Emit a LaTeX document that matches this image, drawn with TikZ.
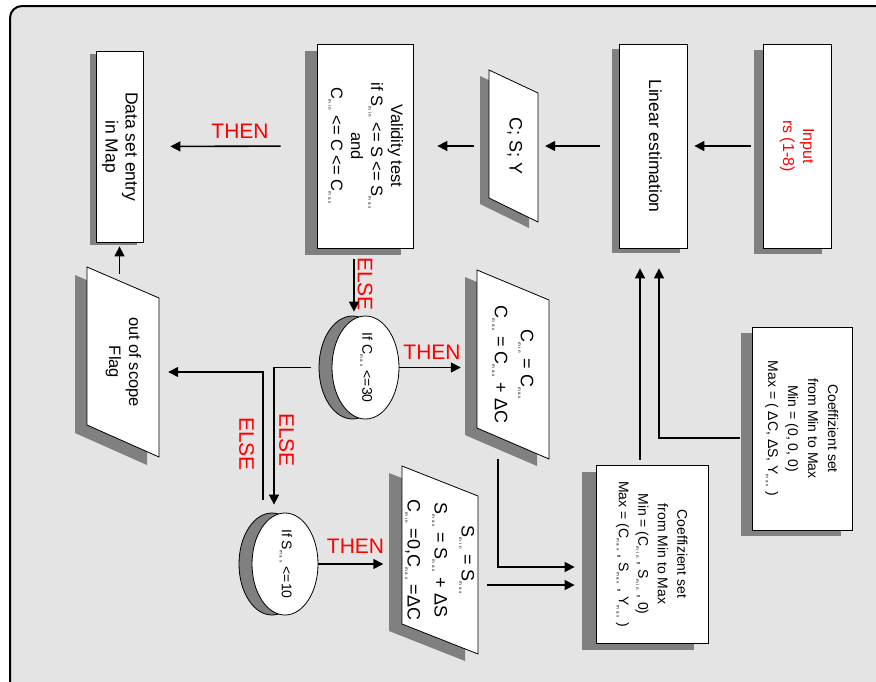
\documentclass[tikz,border=0pt]{standalone}
\usepackage{fontspec}
\setmainfont{Liberation Sans}
\usepackage{graphicx}
\usetikzlibrary{arrows.meta,shapes.geometric}

\definecolor{bggray}{HTML}{E4E4E4}
\definecolor{shadegray}{HTML}{808080}
\definecolor{flowred}{HTML}{FF0000}

\newcommand\sbx[1]{\textsubscript{\fontsize{4.5}{5}\selectfont\addfontfeature{LetterSpace=40}#1}}
\newcommand\vtxt[1]{\rotatebox{-90}{\begin{tabular}{@{}c@{}}#1\end{tabular}}}

\tikzset{
  boxshadow/.style={preaction={fill=shadegray, transform canvas={shift={(#1)}}}},
  box/.style={draw, fill=white, line width=0.8pt, inner sep=0pt, boxshadow={#1}},
  para/.style={draw, fill=white, line width=0.8pt, boxshadow={#1}},
  txt/.style={inner sep=0pt},
  disc/.style={ellipse, draw, fill=white, line width=0.8pt, inner sep=0pt,
    preaction={draw, fill=shadegray, transform canvas={xshift=#1}}},
  flow/.style={-{Triangle[length=10pt,width=10pt]}, line width=1.6pt},
  lbl/.style={text=flowred, inner sep=0pt, font=\fontsize{21}{21}\selectfont},
}

\begin{document}
\begin{tikzpicture}[x=1pt,y=-1pt]
\path[use as bounding box] (0,0) rectangle (876,681);
\clip (0,0) rectangle (876,681);
\draw[line width=2pt, fill=bggray, rounded corners=12pt] (10,6) rectangle (900,700);

% top row
\node[box={-9,6}, minimum width=68, minimum height=204, text=flowred, font=\fontsize{16}{20}\selectfont] (input) at (797,146) {\vtxt{Input\\rs (1-8)}};
\node[box={-7,5}, minimum width=68, minimum height=204, font=\fontsize{17.5}{20}\selectfont] (linear) at (653,146) {\vtxt{Linear estimation}};
\draw[para={-9,6}] (489,70) -- (538,93) -- (538,222) -- (489,198) -- cycle;
\node[txt, minimum width=49, minimum height=152, font=\fontsize{18}{20}\selectfont] (csy) at (513.5,146) {\vtxt{C; S; Y}};
\node[box={-12,7}, minimum width=96, minimum height=204, font=\fontsize{16.5}{20}\selectfont] (valid) at (365,146) {\vtxt{Validity test\\if S\sbx{min} <= S <= S\sbx{max}\\and\\C\sbx{min} <= C <= C\sbx{max}}};
\node[box={-6,3}, minimum width=47, minimum height=191, font=\fontsize{17.5}{20}\selectfont] (data) at (119.5,146.5) {\vtxt{Data set entry\\in Map}};

% tests and updates
\node[disc=-13pt, minimum width=67, minimum height=103, font=\fontsize{14}{16}\selectfont] (c30) at (365.5,367.5) {\vtxt{If C\sbx{max} <=30}};
\draw[para={-12,7}] (477,270) -- (549,300) -- (549,459) -- (477,428) -- cycle;
\node[txt, minimum width=72, minimum height=189, font=\fontsize{18}{26}\selectfont] (cmin) at (513,364.5) {\vtxt{C\sbx{min} = C\sbx{max}\\C\sbx{max} = C\sbx{max} + ΔC}};
\draw[para={-12,8}] (87,267) -- (159,298) -- (159,457) -- (87,425) -- cycle;
\node[txt, minimum width=72, minimum height=176, font=\fontsize{16.5}{20}\selectfont] (flag) at (123,362) {\vtxt{out of scope\\Flag}};
\node[disc=-13pt, minimum width=66, minimum height=102, font=\fontsize{14}{16}\selectfont] (s10) at (285,564) {\vtxt{If S\sbx{max} <=10}};
\draw[para={-13,7}] (402,466) -- (478,496) -- (478,654) -- (402,624) -- cycle;
\node[txt, minimum width=76, minimum height=188, font=\fontsize{18}{27}\selectfont] (smin) at (440,560) {\vtxt{S\sbx{min} = S\sbx{max}\\S\sbx{max} = S\sbx{max} + ΔS\\C\sbx{min} =0,C\sbx{max} =ΔC}};

% coefficient sets
\node[box={-14,7}, minimum width=112, minimum height=178, font=\fontsize{14}{19.5}\selectfont] (coef2) at (652,554) {\vtxt{Coeffizient set\\from Min to Max\\Min = (C\sbx{min} , S\sbx{min} , 0)\\Max = (C\sbx{max} , S\sbx{max} , Y\sbx{max} )}};
\node[box={-11,6}, minimum width=100, minimum height=203, font=\fontsize{14}{20}\selectfont] (coef1) at (802,428.5) {\vtxt{Coeffizient set\\from Min to Max\\Min = (0, 0, 0)\\Max = ( ΔC, ΔS, Y\sbx{max} )}};

% labels
\node[lbl] (then1) at (240,131) {THEN};
\node[lbl, rotate=-90] (else1) at (365,284) {ELSE};
\node[lbl] (then2) at (432,352) {THEN};
\node[lbl, rotate=-90] (else2) at (286.5,440) {ELSE};
\node[lbl, rotate=-90] (else3) at (246.5,444) {ELSE};
\node[lbl] (then3) at (355.5,546) {THEN};

% connectors
\draw[flow, shorten <=12pt, shorten >=7pt] (input.west) -- (linear.east);
\draw[flow, shorten <=19pt, shorten >=7pt] (linear.west) -- (csy.east);
\draw[flow, shorten <=15pt, shorten >=24pt] (csy.west) -- (valid.east);
\draw[flow, shorten <=36pt, shorten >=27pt] (valid.west) -- (data.east);
\draw[flow, shorten <=11pt, shorten >=4pt] ([xshift=-11pt]valid.south) -- ([xshift=-11pt]valid.south |- c30.north);
\draw[flow, shorten >=16pt] (c30.east) -- (c30.east -| cmin.west);
\draw[flow, shorten <=21pt, shorten >=8pt] (c30.west) -| ([xshift=-11pt]s10.north);
\draw[flow, shorten <=13pt, shorten >=9pt] ([xshift=-22pt]s10.north) |- ([yshift=-10pt]flag.east);
\draw[flow, shorten >=4pt] (flag.north -| data.south) -- (data.south);
\draw[flow, shorten >=16pt] (s10.east) -- (s10.east -| smin.west);
\draw[flow, shorten <=6pt, shorten >=21pt] ([yshift=-25pt]smin.east) -- ([yshift=-25pt]smin.east -| coef2.west);
\draw[flow, shorten >=21pt] ([xshift=-15pt]cmin.south) |- ([yshift=-13pt]coef2.west);
\draw[flow, shorten <=5pt, shorten >=20pt] ([xshift=-12pt]coef2.north) -- ([xshift=-12pt]coef2.north |- linear.south);
\draw[flow, shorten <=12pt, shorten >=20pt] ([yshift=-9.5pt]coef1.west) -| ([xshift=6pt]linear.south);
\end{tikzpicture}
\end{document}
